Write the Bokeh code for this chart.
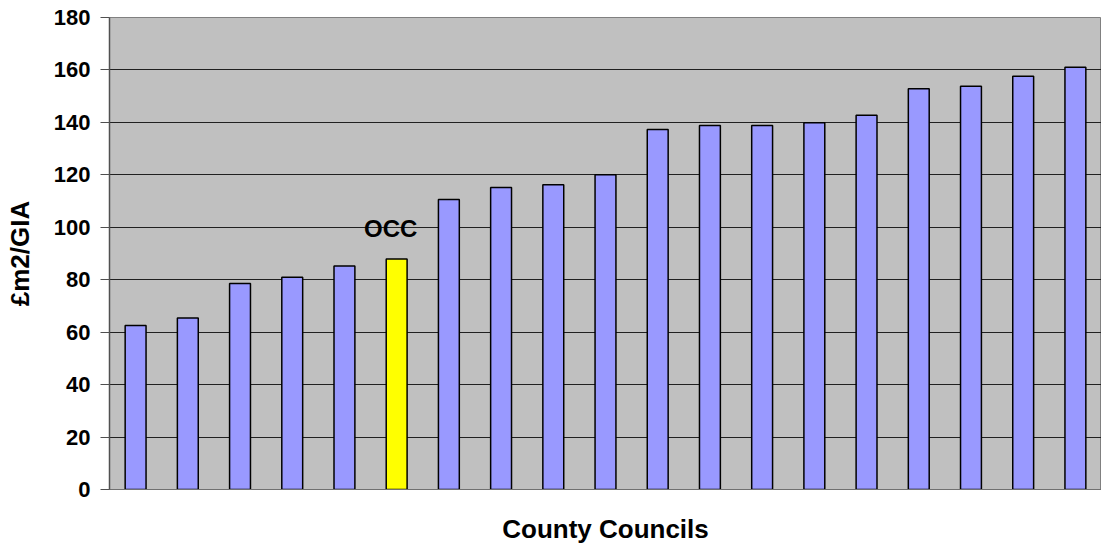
from bokeh.plotting import figure
from bokeh.models import ColumnDataSource, Range1d, FixedTicker, Label
from bokeh.embed import file_html
from bokeh.resources import INLINE

councils = [str(i) for i in range(1, 20)]
values = [62.5, 65.4, 78.6, 80.9, 85.2, 87.9, 110.6, 115.2, 116.2, 120.0,
          137.3, 138.8, 138.8, 139.9, 142.7, 152.8, 153.8, 157.6, 161.0]
highlight = "OCC"
highlight_index = 5
y_ticks = [0, 20, 40, 60, 80, 100, 120, 140, 160, 180]

x_pos = list(range(1, len(values) + 1))
colors = ["#FFFF00" if i == highlight_index else "#9999FF" for i in range(len(values))]
src = ColumnDataSource(dict(x=x_pos, top=values, color=colors, name=councils))

p = figure(width=1101, height=549, output_backend="svg", toolbar_location=None,
           x_range=Range1d(0.5, len(values) + 0.5), y_range=Range1d(0, 180),
           min_border_left=109, min_border_right=0, min_border_top=17, min_border_bottom=60,
           frame_width=992, frame_height=472)
p.background_fill_color = "#C0C0C0"
p.border_fill_color = "white"
p.outline_line_color = "#808080"

p.vbar(x="x", top="top", width=0.4, bottom=0, source=src,
       fill_color="color", line_color="black", line_width=1.5)

p.add_layout(Label(x=x_pos[highlight_index], y=99.5, text=highlight,
                   text_align="center", text_baseline="middle", x_offset=-6,
                   text_font="Liberation Sans", text_font_style="bold",
                   text_font_size="24px", text_color="black"))

FONT = "Liberation Sans"
p.yaxis.ticker = FixedTicker(ticks=y_ticks)
p.yaxis.axis_label = "£m2/GIA"
p.yaxis.axis_label_text_font = FONT
p.yaxis.axis_label_text_font_style = "bold"
p.yaxis.axis_label_text_font_size = "26px"
p.yaxis.axis_label_text_color = "black"
p.yaxis.axis_label_standoff = 16
p.yaxis.major_label_text_font = FONT
p.yaxis.major_label_text_font_style = "bold"
p.yaxis.major_label_text_font_size = "22px"
p.yaxis.major_label_text_color = "black"
p.yaxis.major_label_standoff = 10
p.yaxis.major_tick_out = 9
p.yaxis.major_tick_in = 0
p.yaxis.minor_tick_line_color = None
p.yaxis.axis_line_color = "#505050"
p.yaxis.major_tick_line_color = "#505050"
p.yaxis.axis_line_width = 1.5

p.xaxis.ticker = FixedTicker(ticks=[])
p.xaxis.axis_label = "County Councils"
p.xaxis.axis_label_text_font = FONT
p.xaxis.axis_label_text_font_style = "bold"
p.xaxis.axis_label_text_font_size = "26px"
p.xaxis.axis_label_text_color = "black"
p.xaxis.axis_label_standoff = 24
p.xaxis.axis_line_color = "#707070"
p.xaxis.minor_tick_line_color = None
p.xaxis.major_tick_line_color = None

p.xgrid.grid_line_color = None
p.ygrid.grid_line_color = "#202020"
p.ygrid.grid_line_width = 1

open("out.html", "w").write(file_html(p, INLINE))
